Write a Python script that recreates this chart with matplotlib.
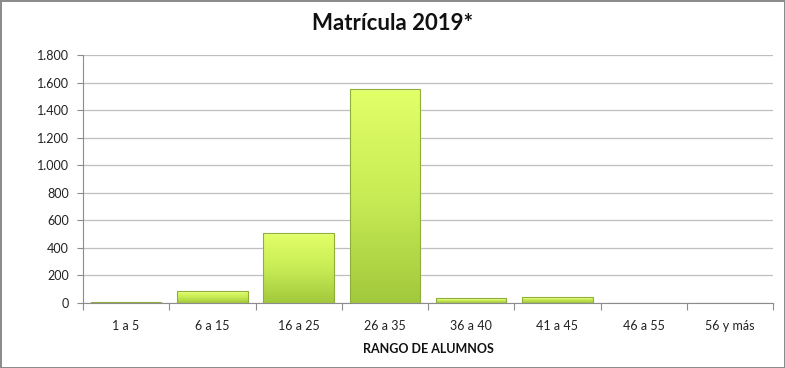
import matplotlib
matplotlib.use("Agg")
import matplotlib.pyplot as plt
import numpy as np
from matplotlib.colors import LinearSegmentedColormap
from matplotlib.ticker import FuncFormatter, FixedLocator

categories = ["1 a 5", "6 a 15", "16 a 25", "26 a 35", "36 a 40", "41 a 45", "46 a 55", "56 y más"]
values = [5, 87, 508, 1553, 36, 44, 0, 0]
yticks = [0, 200, 400, 600, 800, 1000, 1200, 1400, 1600, 1800]

plt.rcParams['font.family'] = ['Lato', 'DejaVu Sans']

fig = plt.figure(figsize=(7.85, 3.68), dpi=100)
fig.patch.set_facecolor("white")
fig.patch.set_edgecolor("#8c8c8c")
fig.patch.set_linewidth(2)

ax = fig.add_axes([83/785, 1 - 303/368, (773-83)/785, (303-55)/368])
x = np.arange(len(categories))
width = 0.82
bars = ax.bar(x, values, width=width, color="none", edgecolor="#8fae3a", linewidth=0.8, zorder=3)

cmap = LinearSegmentedColormap.from_list("g", ["#a2c83c", "#c8ec55", "#e2ff68"])
grad = np.linspace(0, 1, 256).reshape(-1, 1)
for b in bars:
    h = b.get_height()
    if h <= 0:
        continue
    x0 = b.get_x()
    im = ax.imshow(grad, extent=[x0, x0 + b.get_width(), 0, h], origin="lower",
                   cmap=cmap, aspect="auto", zorder=2)
    im.set_clip_path(b)
    # light top bevel
    ax.bar(b.get_x() + b.get_width()/2, min(h, 14), bottom=h - min(h, 14), width=b.get_width()*0.96,
           color="#f2ff9a", alpha=0.55, linewidth=0, zorder=2.5)

ax.set_xlim(-0.5, len(categories) - 0.5)
ax.set_ylim(0, 1800)
ax.set_yticks(yticks)
ax.yaxis.set_major_formatter(FuncFormatter(lambda v, p: f"{int(v):,}".replace(",", ".")))
ax.set_xticks(x)
ax.set_xticklabels(categories)
ax.xaxis.set_minor_locator(FixedLocator(np.arange(-0.5, len(categories), 1)))
ax.tick_params(axis="x", which="major", length=0, pad=12, labelsize=9, colors="#222222")
ax.tick_params(axis="x", which="minor", length=5, color="#8c8c8c", width=0.8)
ax.tick_params(axis="y", length=4, color="#8c8c8c", width=0.8, labelsize=9, labelcolor="#222222", pad=6)

ax.grid(axis="y", color="#bfbfbf", linewidth=0.9, zorder=0)
ax.set_axisbelow(True)
for s in ["top", "right"]:
    ax.spines[s].set_visible(False)
ax.spines["left"].set_color("#8c8c8c")
ax.spines["bottom"].set_color("#8c8c8c")

ax.set_xlabel("RANGO DE ALUMNOS", fontsize=9, fontweight="bold", labelpad=8, color="#111111")
fig.text(0.5, 1 - 24/368, "Matrícula 2019*", ha="center", va="center", fontsize=16, fontweight="bold", color="#111111")

fig.savefig("out.png", dpi=100)
